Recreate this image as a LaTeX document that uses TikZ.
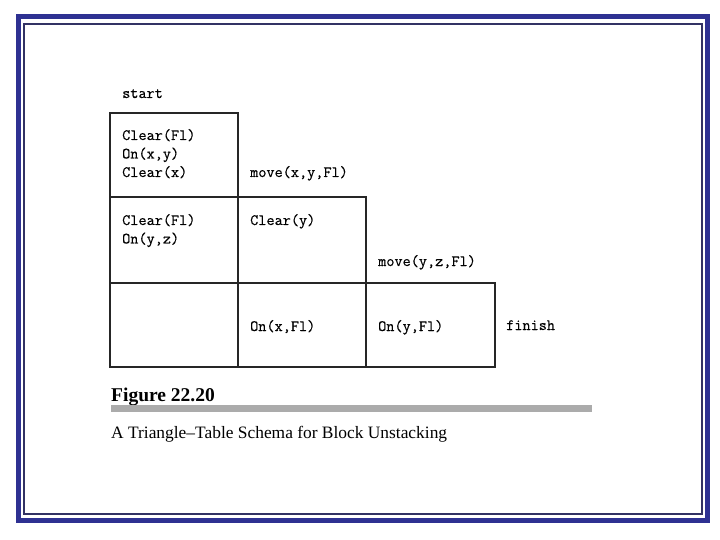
\documentclass[tikz,border=0pt]{standalone}
\usepackage{fontspec}
\setmainfont{Liberation Serif}
\setmonofont[FakeBold=0.4]{Latin Modern Mono}
\begin{document}
\begin{tikzpicture}[x=1pt,y=-1pt,
  lbl/.style={anchor=base west,inner sep=0pt,font=\fontsize{15.8}{18}\ttfamily},
  cell/.style={draw=black!85,line width=1.3pt},
  frameout/.style={draw={rgb,255:red,46;green,49;blue,146},line width=5pt},
  framein/.style={draw={rgb,255:red,50;green,50;blue,100},line width=1.2pt}]
\useasboundingbox (0,0) rectangle (720,540);
\fill[white] (0,0) rectangle (720,540);
\draw[frameout] (18.5,16.5) rectangle (707.5,520.5);
\draw[framein] (24,24) rectangle (702,514);
% table
\draw[cell] (110,113) rectangle (238,197);
\draw[cell] (110,197) rectangle (238,283);
\draw[cell] (238,197) rectangle (366,283);
\draw[cell] (110,283) rectangle (238,367);
\draw[cell] (238,283) rectangle (366,367);
\draw[cell] (366,283) rectangle (495,367);
% labels
\node[lbl] (start) at (122,98) {start};
\node[lbl] (a1) at (122,140) {Clear(Fl)};
\node[lbl] (a2) at (122,158.5) {On(x,y)};
\node[lbl] (a3) at (122,177) {Clear(x)};
\node[lbl] (m1) at (250,177) {move(x,y,Fl)};
\node[lbl] (b1) at (122,225) {Clear(Fl)};
\node[lbl] (b2) at (122,243.5) {On(y,z)};
\node[lbl] (b3) at (250,225) {Clear(y)};
\node[lbl] (m2) at (378,266) {move(y,z,Fl)};
\node[lbl] (c1) at (250,331) {On(x,Fl)};
\node[lbl] (c2) at (378,331) {On(y,Fl)};
\node[lbl] (fin) at (506,330) {finish};
% caption
\node[anchor=base west,inner sep=0pt,font=\fontsize{19.5}{22}\selectfont\bfseries] (fig) at (111,401.5) {Figure 22.20};
\fill[black!33] (111,405) rectangle (592,412);
\node[anchor=base west,inner sep=0pt,font=\fontsize{17.4}{20}\selectfont] (cap) at (111,438) {A Triangle–Table Schema for Block Unstacking};
\end{tikzpicture}
\end{document}
